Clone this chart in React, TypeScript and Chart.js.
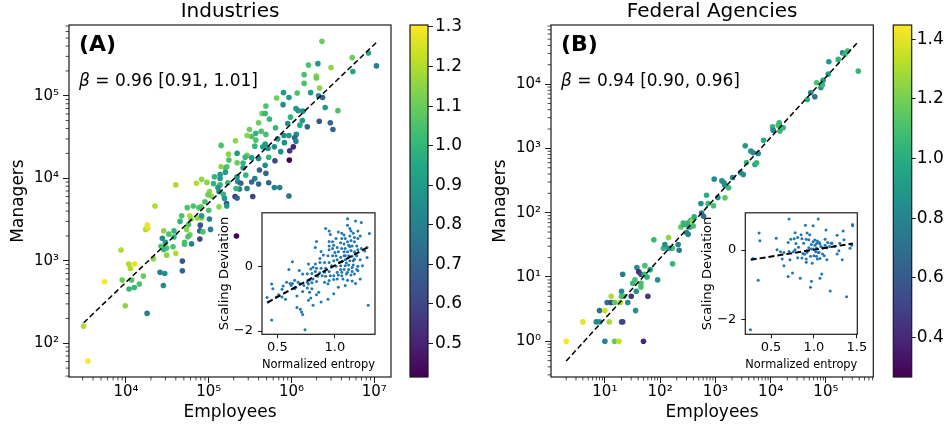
import React, { useEffect, useRef } from "react";
import { Chart, registerables } from "chart.js";

Chart.register(...registerables);

const FONT = "'DejaVu Sans', 'Liberation Sans', sans-serif";

// ---------------- Panel A: Industries ----------------
const industryEmployees = [
  2.33e6, 8.5e6, 1.06e7, 5.4e6, 5.5e6, 3.0e6, 1.6e6, 2.08e6, 1.42e6, 1.99e6,
  1.99e6, 2.18e6, 1.42e6, 1.17e6, 1.7e6, 2.12e6, 2.37e6, 2.55e6, 3.63e6, 1.2e6,
  9.3e5, 8.0e5, 6.6e5, 7.9e5, 9.7e5, 1.13e6, 1.37e6, 1.35e6, 1.26e6, 1.55e6,
  2.16e6, 2.94e6, 3.16e6, 1.14e6, 1.09e6, 1.13e6, 1.05e6, 9.5e5, 9.4e5, 6.3e5,
  7.4e5, 8.1e5, 9.0e5, 9.3e5, 8.2e5, 6.8e5, 6.2e5, 5.2e5, 6.4e5, 5.4e5,
  4.9e5, 4.9e5, 4.4e5, 4.8e5, 4.0e5, 4.3e5, 4.8e5, 4.5e5, 3.7e5, 3.3e5,
  3.1e5, 2.9e5, 3.7e5, 3.6e5, 2.9e5, 3.3e5, 4.0e5, 4.8e5, 5.3e5, 4.1e5,
  4.9e5, 3.6e5, 2.9e5, 3.3e5, 4.0e5, 5.3e5, 6.2e5, 7.2e5, 9.3e5, 3.4e5,
  2.8e5, 2.6e5, 2.6e5, 2.75e5, 2.2e5, 2.2e5, 2.1e5, 1.73e5, 1.75e5, 1.59e5,
  1.59e5, 2.2e5, 2.24e5, 2.44e5, 2.35e5, 2.14e5, 2.08e5, 2.2e5, 1.7e5, 1.37e5,
  1.37e5, 1.41e5, 1.65e5, 1.41e5, 1.37e5, 1.29e5, 1.33e5, 1.5e5, 1.64e5, 1.65e5,
  1.55e5, 1.14e5, 1.17e5, 9.5e4, 1.02e5, 1.07e5, 9.8e4, 8.2e4, 7.1e4, 9.0e4,
  1.0e5, 8.1e4, 1.33e5, 7.6e4, 7.3e4, 8.2e4, 1.02e5, 1.05e5, 7.9e4, 7.8e4,
  7.8e4, 8.5e4, 8.2e4, 6.5e4, 5.5e4, 4.7e4, 4.5e4, 5.9e4, 6.1e4, 5.7e4,
  5.4e4, 5.9e4, 6.2e4, 5.1e4, 5.6e4, 5.1e4, 4.8e4, 4.8e4, 3.8e4, 4.0e4,
  3.8e4, 3.7e4, 4.0e4, 3.3e4, 2.86e4, 2.75e4, 3.0e4, 3.1e4, 3.1e4, 2.86e4,
  2.65e4, 2.24e4, 1.73e4, 1.83e4, 1.81e4, 2.14e4, 2.58e4, 2.94e4, 2.83e4, 1.62e4,
  1.45e4, 1.26e4, 1.09e4, 1.17e4, 1.08e4, 1.27e4, 1.13e4, 9.0e3, 8.7e3, 5.5e3,
  9.8e3, 1.8e4, 3.08e3, 3.47e3, 2.16e5,
];
const industryManagers = [
  4.56e5, 3.3e5, 2.3e5, 2.9e5, 1.97e5, 2.2e5, 2.35e5, 2.45e5, 1.8e5, 1.73e5,
  1.64e5, 1.24e5, 1.41e5, 1.08e5, 1.09e5, 1.0e5, 9.5e4, 7.2e4, 6.6e4, 6.6e4,
  9.5e4, 1.09e5, 9.4e4, 7.8e4, 5.5e4, 7.0e4, 6.5e4, 5.0e4, 4.4e4, 4.2e4,
  4.9e4, 4.7e4, 3.9e4, 3.4e4, 3.1e4, 2.8e4, 2.4e4, 2.15e4, 1.66e4, 1.63e4,
  2.1e4, 3.3e4, 4.6e4, 3.3e4, 2.7e4, 3.0e4, 2.4e4, 2.3e4, 4.1e4, 5.2e4,
  3.4e4, 7.5e4, 6.1e4, 6.1e4, 4.7e4, 3.7e4, 2.6e4, 2.4e4, 2.9e4, 3.2e4,
  3.9e4, 3.3e4, 3.5e4, 2.45e4, 1.9e4, 1.77e4, 1.74e4, 1.44e4, 1.8e4, 1.26e4,
  1.15e4, 9.9e3, 7.5e3, 9.0e3, 8.5e3, 8.8e3, 7.7e3, 7.7e3, 6.1e3, 6.0e3,
  1.09e4, 1.34e4, 1.53e4, 1.8e4, 2.0e4, 1.54e4, 2.85e4, 1.96e4, 1.66e4, 1.34e4,
  1.18e4, 1.04e4, 9.1e3, 8.7e3, 7.4e3, 7.5e3, 6.0e3, 5.75e3, 8.8e3, 1.11e4,
  9.95e3, 1.38e4, 1.38e4, 2.5e4, 8.3e3, 7.7e3, 6.9e3, 6.4e3, 4.95e3, 4.6e3,
  5.7e3, 8.6e3, 1.04e4, 8.9e3, 6.9e3, 6.1e3, 6.3e3, 9.7e3, 8.7e3, 5.2e3,
  4.1e3, 4.5e3, 4.5e3, 4.4e3, 3.3e3, 3.3e3, 3.2e3, 2.4e3, 2.7e3, 2.3e3,
  1.83e3, 2.25e3, 3.5e3, 4.6e3, 4.4e3, 3.5e3, 3.0e3, 3.5e3, 3.2e3, 2.75e3,
  2.4e3, 2.07e3, 1.6e3, 1.67e3, 1.95e3, 1.59e3, 990, 757, 2.3e3, 8.3e3,
  1.94e3, 1.48e3, 1.23e3, 2.1e3, 2.3e3, 1.87e3, 1.67e3, 1.43e3, 1.17e3, 1.37e3,
  1.5e3, 4.6e3, 2.4e3, 2.47e3, 2.7e3, 1.06e3, 723, 702, 502, 652,
  521, 475, 454, 583, 912, 912, 807, 583, 1.35e3, 556,
  285, 230, 161, 61, 1.99e3,
];
const industryEntropy = [
  1.1, 0.95, 0.8, 1.1, 0.95, 1.15, 1.05, 0.9, 1.05, 1.15,
  1.1, 1.15, 1.05, 1.05, 0.9, 0.85, 0.7, 0.9, 1.05, 0.9,
  0.9, 0.9, 1.1, 0.85, 1.0, 0.9, 0.85, 0.9, 0.95, 0.7,
  0.65, 0.7, 0.7, 0.85, 0.7, 0.8, 0.5, 0.55, 0.42, 0.6,
  0.85, 0.85, 0.85, 0.9, 0.85, 0.9, 0.85, 0.85, 1.0, 1.0,
  1.05, 1.05, 1.1, 1.0, 1.1, 1.05, 0.9, 0.9, 1.05, 1.05,
  1.1, 1.15, 1.0, 1.0, 1.1, 0.9, 0.85, 0.85, 1.0, 0.7,
  0.7, 0.8, 0.8, 0.7, 0.7, 0.7, 0.8, 0.8, 0.75, 0.6,
  1.0, 0.9, 1.0, 1.0, 0.9, 1.1, 1.15, 1.15, 1.05, 1.05,
  0.9, 0.9, 0.85, 0.7, 0.8, 1.0, 0.55, 0.7, 1.0, 0.9,
  0.9, 1.15, 1.05, 1.05, 1.0, 0.9, 0.85, 1.0, 0.65, 0.9,
  0.9, 1.0, 1.0, 1.15, 1.15, 1.15, 1.1, 1.15, 1.2, 1.05,
  1.05, 1.1, 1.15, 1.05, 1.15, 1.15, 0.8, 0.8, 0.65, 0.7,
  0.6, 1.05, 0.9, 1.05, 1.05, 1.05, 1.0, 1.2, 1.15, 1.05,
  1.15, 1.1, 0.8, 1.05, 1.05, 1.05, 0.65, 0.7, 1.0, 1.2,
  1.0, 1.05, 1.2, 1.05, 1.15, 0.85, 0.9, 1.05, 1.15, 1.0,
  1.05, 1.2, 1.2, 1.25, 1.28, 1.15, 0.8, 0.85, 0.85, 1.1,
  1.05, 1.0, 1.0, 1.05, 1.2, 1.27, 1.2, 1.1, 1.2, 1.3,
  1.15, 0.8, 1.2, 1.3, 0.42,
];
const industryFitEmployees = [3080, 1.06e7];
const industryFitManagers = [177, 4.43e5];
const industryXTicks = [1e4, 1e5, 1e6, 1e7];
const industryYTicks = [1e2, 1e3, 1e4, 1e5];
const industryColorTicks = [0.5, 0.6, 0.7, 0.8, 0.9, 1.0, 1.1, 1.2, 1.3];

const industryInsetEntropy = [
  1.11, 1.18, 1.23, 1.11, 1.13, 0.92, 0.95, 0.96, 1.03, 1.06,
  1.08, 1.14, 1.16, 1.2, 1.22, 1.3, 1.17, 1.13, 1.09, 1.06,
  1.01, 0.98, 0.95, 0.99, 0.95, 1.05, 1.08, 1.11, 1.14, 1.17,
  1.2, 1.12, 1.15, 1.19, 1.09, 1.06, 1.02, 0.98, 0.95, 1.03,
  1.08, 1.11, 1.14, 1.17, 1.2, 1.23, 1.28, 1.26, 0.84, 0.83,
  0.88, 0.9, 0.87, 0.94, 0.98, 1.01, 1.05, 1.08, 1.12, 1.15,
  1.19, 1.22, 1.28, 1.16, 1.13, 1.09, 1.06, 1.02, 0.99, 0.95,
  0.91, 0.87, 0.83, 0.81, 0.77, 0.63, 0.6, 0.69, 0.79, 0.84,
  0.88, 0.92, 0.97, 1.01, 1.05, 1.09, 1.12, 1.16, 1.2, 1.24,
  1.05, 1.08, 1.12, 1.15, 1.19, 0.95, 0.91, 0.87, 0.83, 0.8,
  0.76, 0.72, 0.68, 0.65, 0.61, 0.58, 0.62, 0.66, 0.7, 0.73,
  0.76, 0.78, 0.81, 0.85, 0.89, 0.92, 0.96, 0.99, 1.03, 1.06,
  1.1, 1.14, 1.17, 1.22, 1.2, 0.95, 0.99, 1.02, 1.07, 1.11,
  1.15, 1.18, 1.03, 1.09, 0.94, 0.91, 0.84, 0.8, 0.77, 0.76,
  0.8, 0.72, 0.67, 0.78, 0.79, 0.77, 0.86, 0.84, 0.99, 0.94,
  0.88, 0.81, 0.67, 0.7, 0.71, 0.72, 0.45, 0.46, 0.41, 0.42,
  0.54, 0.55, 0.57, 0.74, 0.45, 1.29, 0.54, 0.51, 0.49, 0.63,
  0.65, 1.04, 1.1, 1.15, 1.02, 1.06, 1.11, 1.17, 1.0, 1.13,
  1.09,
];
const industryInsetDeviation = [
  1.47, 1.4, 1.35, 1.27, 1.17, 1.17, 1.09, 0.98, 1.06, 1.02,
  0.97, 1.09, 1.02, 1.09, 0.94, 1.01, 0.89, 0.94, 0.86, 0.86,
  0.86, 0.76, 0.77, 0.65, 0.63, 0.73, 0.69, 0.76, 0.8, 0.76,
  0.86, 0.65, 0.63, 0.63, 0.55, 0.55, 0.58, 0.55, 0.51, 0.45,
  0.45, 0.45, 0.49, 0.45, 0.51, 0.55, 0.58, 0.47, 0.77, 0.58,
  0.46, 0.35, 0.24, 0.33, 0.33, 0.33, 0.28, 0.33, 0.33, 0.31,
  0.33, 0.2, 0.27, 0.17, 0.17, 0.2, 0.14, 0.2, 0.17, 0.12,
  0.12, 0.12, 0.07, -0.03, 0.07, 0.14, -0.1, -0.13, -0.08, -0.06,
  -0.06, -0.06, 0.02, 0.0, 0.02, 0.02, 0.04, 0.04, 0.0, 0.02,
  -0.1, -0.1, -0.1, -0.16, -0.1, -0.16, -0.18, -0.2, -0.16, -0.22,
  -0.23, -0.24, -0.49, -0.43, -0.53, -0.49, -0.59, -0.65, -0.54, -0.59,
  -0.49, -0.43, -0.39, -0.31, -0.29, -0.31, -0.29, -0.29, -0.27, -0.29,
  -0.24, -0.27, -0.24, -0.39, -0.14, -0.44, -0.41, -0.39, -0.39, -0.43,
  -0.45, -0.53, -0.65, -0.59, -0.54, -0.49, -0.47, -0.51, -0.55, -0.67,
  -0.69, -0.78, -0.92, -0.8, -0.98, -1.05, -0.8, -0.88, -0.85, -1.02,
  -1.1, -1.2, -1.27, -1.33, -1.41, -1.49, -0.55, -0.69, -0.96, -1.1,
  -0.71, -0.61, -1.02, -1.96, -1.66, -1.2, -0.95, -0.88, -0.95, -0.53,
  -0.69, 0.12, 0.1, -0.04, -0.18, -0.18, -0.18, 0.22, 0.43, 0.61,
  0.33,
];
const industryInsetFitEntropy = [0.413, 1.291];
const industryInsetFitDeviation = [-1.12, 0.6];
const industryInsetXTicks = [0.5, 1.0];
const industryInsetYTicks = [-2, 0];

// ---------------- Panel B: Federal Agencies ----------------
const agencyEmployees = [
  2, 4, 7, 8, 8, 10, 12, 10, 15, 18,
  11, 13, 13, 15, 19, 20, 20, 22, 21, 20,
  21, 30, 26, 36, 32, 35, 38, 41, 45, 37,
  45, 45, 52, 53, 58, 66, 60, 50, 90, 77,
  115, 142, 166, 168, 122, 144, 212, 221, 237, 269,
  262, 292, 313, 345, 301, 322, 360, 381, 414, 397,
  562, 611, 692, 741, 547, 927, 953, 1110, 1310, 1430,
  1490, 1730, 1490, 2050, 2850, 3190, 3470, 3660, 4390, 4840,
  5190, 5560, 5960, 7440, 1.08e4, 1.11e4, 1.37e4, 1.43e4, 1.47e4, 1.69e4,
  4.6e4, 5.3e4, 6.3e4, 6.8e4, 8.1e4, 8.6e4, 8.9e4, 1.1e5, 1.13e5, 1.67e5,
  2.0e5, 2.21e5, 2.47e5, 3.85e5,
];
const agencyManagers = [
  1, 2, 2, 2, 3, 3, 2, 1, 1, 1,
  4, 4, 5, 4, 4, 5, 6, 5, 11, 2,
  2, 5, 4, 3, 8, 9, 14, 12, 11, 6,
  7, 8, 11, 15, 10, 13, 5, 1, 9, 38,
  28, 41, 28, 16, 32, 28, 32, 26, 60, 66,
  69, 65, 69, 60, 49, 46, 76, 74, 86, 62,
  99, 88, 187, 139, 139, 128, 332, 172, 312, 291,
  268, 244, 170, 352, 422, 393, 1100, 604, 906, 853,
  562, 597, 832, 1340, 2170, 1920, 2280, 2500, 1860, 2090,
  5770, 7330, 6350, 1.05e4, 8870, 9640, 1.15e4, 1.43e4, 2.23e4, 2.42e4,
  3.08e4, 2.93e4, 3.26e4, 1.59e4,
];
const agencyEntropy = [
  1.44, 1.4, 0.8, 0.85, 0.7, 1.35, 1.3, 0.8, 1.15, 1.35,
  0.7, 0.5, 1.3, 1.15, 1.3, 1.1, 0.85, 1.1, 0.75, 0.7,
  0.5, 0.45, 0.85, 0.85, 1.05, 1.1, 0.85, 0.4, 0.5, 0.85,
  1.1, 1.1, 1.05, 1.1, 1.0, 0.95, 0.45, 0.4, 0.85, 1.05,
  1.05, 1.25, 1.1, 1.05, 0.85, 0.85, 0.8, 0.75, 1.15, 0.85,
  1.05, 1.05, 1.05, 0.9, 0.8, 0.8, 1.05, 1.25, 1.0, 1.1,
  0.75, 0.7, 1.0, 1.05, 0.85, 1.1, 0.85, 0.85, 0.85, 0.85,
  0.85, 1.05, 1.15, 0.8, 0.85, 0.85, 0.9, 1.05, 0.85, 0.85,
  0.95, 1.05, 0.85, 1.0, 1.05, 0.8, 1.1, 1.05, 1.05, 1.05,
  1.0, 0.8, 0.7, 1.1, 0.85, 1.05, 0.9, 0.95, 0.9, 1.05,
  0.8, 1.05, 1.05, 1.05,
];
const agencyFitEmployees = [2, 3.85e5];
const agencyFitManagers = [0.494, 4.56e4];
const agencyXTicks = [1e1, 1e2, 1e3, 1e4, 1e5];
const agencyYTicks = [1e0, 1e1, 1e2, 1e3, 1e4];
const agencyColorTicks = [0.4, 0.6, 0.8, 1.0, 1.2, 1.4];

const agencyInsetEntropy = [
  0.71, 1.05, 0.9, 0.99, 0.36, 0.37, 0.56, 0.78, 0.85, 0.92,
  0.95, 1.14, 1.27, 1.34, 1.45, 1.45, 0.73, 0.77, 0.81, 0.86,
  0.91, 0.94, 1.01, 1.04, 1.06, 1.03, 1.07, 1.13, 1.16, 1.2,
  1.21, 1.3, 1.35, 0.7, 0.79, 0.88, 0.97, 0.99, 1.01, 1.08,
  1.13, 1.18, 0.61, 0.65, 0.71, 0.76, 0.78, 0.82, 0.87, 0.89,
  0.92, 0.97, 0.99, 1.03, 1.1, 1.15, 1.24, 1.29, 1.42, 1.44,
  0.29, 0.63, 0.72, 0.81, 0.86, 0.91, 0.96, 0.98, 1.03, 1.04,
  1.07, 1.12, 1.15, 1.27, 1.33, 0.92, 0.94, 1.02, 1.1, 1.06,
  0.65, 0.75, 0.7, 0.84, 0.97, 0.96, 1.07, 1.09, 1.19, 1.38,
  0.35, 0.26, 0.91, 1.0, 1.05, 0.57,
];
const agencyInsetDeviation = [
  0.9, 0.9, 0.72, 0.7, 0.49, 0.27, 0.34, 0.5, 0.44, 0.49,
  0.44, 0.58, 0.43, 0.55, 0.74, 0.7, 0.31, 0.33, 0.36, 0.33,
  0.31, 0.3, 0.29, 0.26, 0.22, 0.19, 0.18, 0.31, 0.22, 0.2,
  0.2, 0.2, 0.3, 0.22, 0.19, 0.2, 0.16, 0.24, 0.14, 0.1,
  0.14, 0.1, -0.05, -0.07, -0.04, -0.05, 0.01, 0.08, -0.1, -0.12,
  -0.07, 0.03, 0.03, 0.06, 0.07, 0.07, 0.1, -0.02, 0.05, 0.14,
  -0.24, -0.26, -0.28, -0.22, -0.23, -0.35, -0.18, -0.38, -0.18, -0.26,
  -0.24, -0.16, -0.28, -0.11, -0.28, -0.02, 0.07, -0.05, -0.11, -0.07,
  -0.45, -0.66, -0.76, -0.81, -0.9, -1.07, -0.81, -0.69, -1.18, -1.35,
  -0.87, -2.3, -0.26, -0.16, -0.07, 0.01,
];
const agencyInsetFitEntropy = [0.263, 1.453];
const agencyInsetFitDeviation = [-0.28, 0.19];
const agencyInsetXTicks = [0.5, 1.0, 1.5];
const agencyInsetYTicks = [-2, 0];

// ---------------- Styling helpers ----------------
const VIRIDIS = ["#440154", "#482475", "#414487", "#355f8d", "#2a788e", "#21918c", "#22a884", "#44bf70", "#7ad151", "#bddf26", "#fde725"];

function hexToRgb(h: string) {
  return [parseInt(h.slice(1, 3), 16), parseInt(h.slice(3, 5), 16), parseInt(h.slice(5, 7), 16)];
}
function viridis(t: number) {
  const tt = Math.min(1, Math.max(0, t)) * (VIRIDIS.length - 1);
  const i = Math.min(VIRIDIS.length - 2, Math.floor(tt));
  const f = tt - i;
  const a = hexToRgb(VIRIDIS[i]);
  const b = hexToRgb(VIRIDIS[i + 1]);
  return `rgb(${a.map((v, k) => Math.round(v + (b[k] - v) * f)).join(",")})`;
}

const SUP: Record<string, string> = { "0": "⁰", "1": "¹", "2": "²", "3": "³", "4": "⁴", "5": "⁵", "6": "⁶", "7": "⁷", "8": "⁸", "9": "⁹", "-": "⁻" };
function powLabel(v: any) {
  const e = Math.round(Math.log10(Number(v)));
  return "10" + String(e).split("").map((c) => SUP[c]).join("");
}

const FRAME_COLOR = "#1a1a1a";

const framePlugin = {
  id: "frame",
  afterDraw(chart: any) {
    const { ctx, chartArea: a } = chart;
    ctx.save();
    ctx.strokeStyle = FRAME_COLOR;
    ctx.lineWidth = 1.2;
    ctx.strokeRect(a.left, a.top, a.right - a.left, a.bottom - a.top);
    ctx.restore();
  },
};

const whiteAreaPlugin = {
  id: "whiteArea",
  beforeDraw(chart: any) {
    const { ctx, chartArea: a } = chart;
    ctx.save();
    ctx.fillStyle = "#ffffff";
    ctx.fillRect(a.left, a.top, a.right - a.left, a.bottom - a.top);
    ctx.restore();
  },
};

const minorTicksPlugin = {
  id: "minorTicks",
  afterDraw(chart: any) {
    const { ctx, chartArea: a } = chart;
    ctx.save();
    ctx.strokeStyle = FRAME_COLOR;
    ctx.lineWidth = 0.8;
    for (const id of ["x", "y"]) {
      const s = chart.scales[id];
      if (!s || s.type !== "logarithmic") continue;
      const lo = Math.floor(Math.log10(s.min));
      const hi = Math.ceil(Math.log10(s.max));
      for (let d = lo; d <= hi; d++) {
        for (let m = 2; m <= 9; m++) {
          const v = m * Math.pow(10, d);
          if (v < s.min || v > s.max) continue;
          const p = s.getPixelForValue(v);
          ctx.beginPath();
          if (id === "x") {
            ctx.moveTo(p, a.bottom);
            ctx.lineTo(p, a.bottom + 3.4);
          } else {
            ctx.moveTo(a.left, p);
            ctx.lineTo(a.left - 3.4, p);
          }
          ctx.stroke();
        }
      }
    }
    ctx.restore();
  },
};

function textPlugin(title: string, letter: string, betaRest: string) {
  return {
    id: "panelTexts",
    afterDraw(chart: any) {
      const { ctx, chartArea: a } = chart;
      ctx.save();
      ctx.fillStyle = "#000";
      ctx.textBaseline = "middle";
      ctx.textAlign = "center";
      ctx.font = `20px ${FONT}`;
      ctx.fillText(title, (a.left + a.right) / 2, 12);
      ctx.textAlign = "left";
      ctx.font = `bold 22px ${FONT}`;
      ctx.fillText(letter, a.left + 10, 45);
      ctx.font = `italic 17px ${FONT}`;
      ctx.fillText("β", a.left + 10, 81.5);
      const w = ctx.measureText("β").width;
      ctx.font = `17px ${FONT}`;
      ctx.fillText(betaRest, a.left + 10 + w, 81.5);
      ctx.restore();
    },
  };
}

function logAxis(min: number, max: number, ticks: number[], title: string, isX: boolean, size: number, titlePad: number) {
  return {
    type: "logarithmic",
    min,
    max,
    afterBuildTicks: (s: any) => {
      s.ticks = ticks.map((v) => ({ value: v }));
    },
    afterFit: (s: any) => {
      if (isX) s.height = size;
      else s.width = size;
    },
    grid: { drawOnChartArea: false, drawTicks: true, tickLength: 6, tickColor: FRAME_COLOR, tickWidth: 1 },
    border: { display: false },
    ticks: {
      callback: (v: any) => powLabel(v),
      font: { family: FONT, size: 15 },
      color: "#000",
      autoSkip: false,
      maxRotation: 0,
      padding: isX ? 0 : 4,
    },
    title: {
      display: true,
      text: title,
      color: "#000",
      font: { family: FONT, size: 17 },
      padding: isX ? { top: 0, bottom: 2 } : { top: titlePad, bottom: 0 },
    },
  };
}

function buildMain(d: any) {
  return () => {
    const colors = d.entropy.map((c: number) => viridis((c - d.cmin) / (d.cmax - d.cmin)));
    return {
      type: "scatter",
      data: {
        datasets: [
          {
            data: d.fitX.map((x: number, i: number) => ({ x, y: d.fitY[i] })),
            showLine: true,
            borderColor: "#000",
            borderWidth: 1.5,
            borderDash: [5.5, 3],
            pointRadius: 0,
            order: 0,
          },
          {
            data: d.x.map((x: number, i: number) => ({ x, y: d.y[i] })),
            backgroundColor: colors,
            pointRadius: 2.8,
            pointHoverRadius: 2.8,
            borderWidth: 0,
            order: 1,
          },
        ],
      },
      options: {
        responsive: false,
        animation: false,
        events: [],
        layout: { padding: { top: 25, right: d.padRight, left: 0, bottom: 0 } },
        plugins: { legend: { display: false }, tooltip: { enabled: false } },
        scales: {
          x: logAxis(d.xMin, d.xMax, d.xTicks, "Employees", true, 48, 0),
          y: logAxis(d.yMin, d.yMax, d.yTicks, "Managers", false, d.yAxisWidth, d.yTitlePad),
        },
      },
      plugins: [minorTicksPlugin, framePlugin, textPlugin(d.title, d.letter, d.beta)],
    };
  };
}

function buildColorbar(d: any) {
  return () => ({
    type: "bar",
    data: {
      labels: [""],
      datasets: [
        {
          data: [[d.min, d.max]],
          backgroundColor: (ctx: any) => {
            const a = ctx.chart.chartArea;
            if (!a) return VIRIDIS[5];
            const g = ctx.chart.ctx.createLinearGradient(0, a.bottom, 0, a.top);
            VIRIDIS.forEach((c, i) => g.addColorStop(i / (VIRIDIS.length - 1), c));
            return g;
          },
          barPercentage: 1,
          categoryPercentage: 1,
          borderWidth: 0,
        },
      ],
    },
    options: {
      responsive: false,
      animation: false,
      events: [],
      layout: { padding: { left: d.padLeft, top: 25, bottom: 48, right: 0 } },
      plugins: { legend: { display: false }, tooltip: { enabled: false } },
      scales: {
        x: { display: false },
        y: {
          position: "right",
          min: d.min,
          max: d.max,
          afterBuildTicks: (s: any) => {
            s.ticks = d.ticks.map((v: number) => ({ value: v }));
          },
          afterFit: (s: any) => {
            s.width = d.axisWidth;
          },
          grid: { drawOnChartArea: false, drawTicks: true, tickLength: d.tickLength, tickColor: FRAME_COLOR },
          border: { display: false },
          ticks: {
            callback: (v: any) => Number(v).toFixed(1),
            font: { family: FONT, size: 17 },
            color: "#000",
            padding: d.tickPad,
            autoSkip: false,
          },
        },
      },
    },
    plugins: [framePlugin],
  });
}

function buildInset(d: any) {
  return () => ({
    type: "scatter",
    data: {
      datasets: [
        {
          data: d.fitX.map((x: number, i: number) => ({ x, y: d.fitY[i] })),
          showLine: true,
          borderColor: "#000",
          borderWidth: 2,
          borderDash: [6, 3],
          pointRadius: 0,
          order: 0,
        },
        {
          data: d.x.map((x: number, i: number) => ({ x, y: d.y[i] })),
          backgroundColor: "#1f77b4",
          pointRadius: 1.5,
          pointHoverRadius: 1.5,
          borderWidth: 0,
          order: 1,
        },
      ],
    },
    options: {
      responsive: false,
      animation: false,
      events: [],
      layout: { padding: { top: 11.7, right: d.padRight, left: 0, bottom: 0 } },
      plugins: { legend: { display: false }, tooltip: { enabled: false } },
      scales: {
        x: {
          type: "linear",
          min: d.xMin,
          max: d.xMax,
          afterBuildTicks: (s: any) => {
            s.ticks = d.xTicks.map((v: number) => ({ value: v }));
          },
          afterFit: (s: any) => {
            s.height = 40.7;
          },
          grid: { drawOnChartArea: false, drawTicks: true, tickLength: 4, tickColor: FRAME_COLOR },
          border: { display: false },
          ticks: {
            callback: (v: any) => Number(v).toFixed(1),
            font: { family: FONT, size: 13 },
            color: "#000",
            padding: 1.5,
            autoSkip: false,
            maxRotation: 0,
          },
          title: {
            display: true,
            text: "Normalized entropy",
            color: "#000",
            font: { family: FONT, size: 13 },
            padding: { top: 0, bottom: 2.5 },
          },
        },
        y: {
          type: "linear",
          min: d.yMin,
          max: d.yMax,
          afterBuildTicks: (s: any) => {
            s.ticks = d.yTicks.map((v: number) => ({ value: v }));
          },
          afterFit: (s: any) => {
            s.width = d.yAxisWidth;
          },
          grid: { drawOnChartArea: false, drawTicks: true, tickLength: 4, tickColor: FRAME_COLOR },
          border: { display: false },
          ticks: {
            callback: (v: any) => (Number(v) < 0 ? "−" + Math.abs(Number(v)) : String(v)),
            font: { family: FONT, size: 13 },
            color: "#000",
            padding: 5,
            autoSkip: false,
          },
          title: {
            display: true,
            text: "Scaling Deviation",
            color: "#000",
            font: { family: FONT, size: 13 },
            padding: { top: d.yTitlePad, bottom: 0 },
          },
        },
      },
    },
    plugins: [whiteAreaPlugin, framePlugin],
  });
}

const makeIndustryMain = buildMain({
  x: industryEmployees, y: industryManagers, entropy: industryEntropy, cmin: 0.415, cmax: 1.305,
  fitX: industryFitEmployees, fitY: industryFitManagers,
  xMin: 2050, xMax: 1.59e7, yMin: 39, yMax: 7.2e5, xTicks: industryXTicks, yTicks: industryYTicks,
  yAxisWidth: 69, padRight: 9, yTitlePad: 8,
  title: "Industries", letter: "(A)", beta: " = 0.96 [0.91, 1.01]",
});
const makeAgencyMain = buildMain({
  x: agencyEmployees, y: agencyManagers, entropy: agencyEntropy, cmin: 0.267, cmax: 1.448,
  fitX: agencyFitEmployees, fitY: agencyFitManagers,
  xMin: 1.06, xMax: 7.2e5, yMin: 0.278, yMax: 8.3e4, xTicks: agencyXTicks, yTicks: agencyYTicks,
  yAxisWidth: 71, padRight: 6.7, yTitlePad: 10,
  title: "Federal Agencies", letter: "(B)", beta: " = 0.94 [0.90, 0.96]",
});
const makeIndustryBar = buildColorbar({ min: 0.415, max: 1.305, ticks: industryColorTicks, padLeft: 10, axisWidth: 47, tickLength: 5, tickPad: 2 });
const makeAgencyBar = buildColorbar({ min: 0.267, max: 1.448, ticks: agencyColorTicks, padLeft: 10.3, axisWidth: 35.3, tickLength: 4, tickPad: 1 });
const makeIndustryInset = buildInset({
  x: industryInsetEntropy, y: industryInsetDeviation, fitX: industryInsetFitEntropy, fitY: industryInsetFitDeviation,
  xMin: 0.366, xMax: 1.349, yMin: -2.1, yMax: 1.653, xTicks: industryInsetXTicks, yTicks: industryInsetYTicks,
  yAxisWidth: 57, padRight: 15, yTitlePad: 12,
});
const makeAgencyInset = buildInset({
  x: agencyInsetEntropy, y: agencyInsetDeviation, fitX: agencyInsetFitEntropy, fitY: agencyInsetFitDeviation,
  xMin: 0.2, xMax: 1.505, yMin: -2.43, yMax: 1.076, xTicks: agencyInsetXTicks, yTicks: agencyInsetYTicks,
  yAxisWidth: 55.3, padRight: 17.7, yTitlePad: 9.5,
});

function ChartCanvas({ left, top, width, height, build }: any) {
  const ref = useRef<HTMLCanvasElement | null>(null);
  useEffect(() => {
    const chart = new Chart(ref.current as HTMLCanvasElement, build() as any);
    return () => chart.destroy();
  }, [build]);
  return (
    <canvas
      ref={ref}
      width={width}
      height={height}
      style={{ position: "absolute", left, top, width, height, display: "block" }}
    />
  );
}

export default function App() {
  return (
    <div style={{ position: "absolute", left: 0, top: 0, width: 947, height: 425, background: "#fff", overflow: "hidden" }}>
      <ChartCanvas left={0} top={0} width={400} height={425} build={makeIndustryMain} />
      <ChartCanvas left={400} top={0} width={75} height={425} build={makeIndustryBar} />
      <ChartCanvas left={480} top={0} width={400} height={425} build={makeAgencyMain} />
      <ChartCanvas left={883} top={0} width={64} height={425} build={makeAgencyBar} />
      <ChartCanvas left={205} top={200} width={185} height={175} build={makeIndustryInset} />
      <ChartCanvas left={690} top={200} width={185} height={175} build={makeAgencyInset} />
    </div>
  );
}
